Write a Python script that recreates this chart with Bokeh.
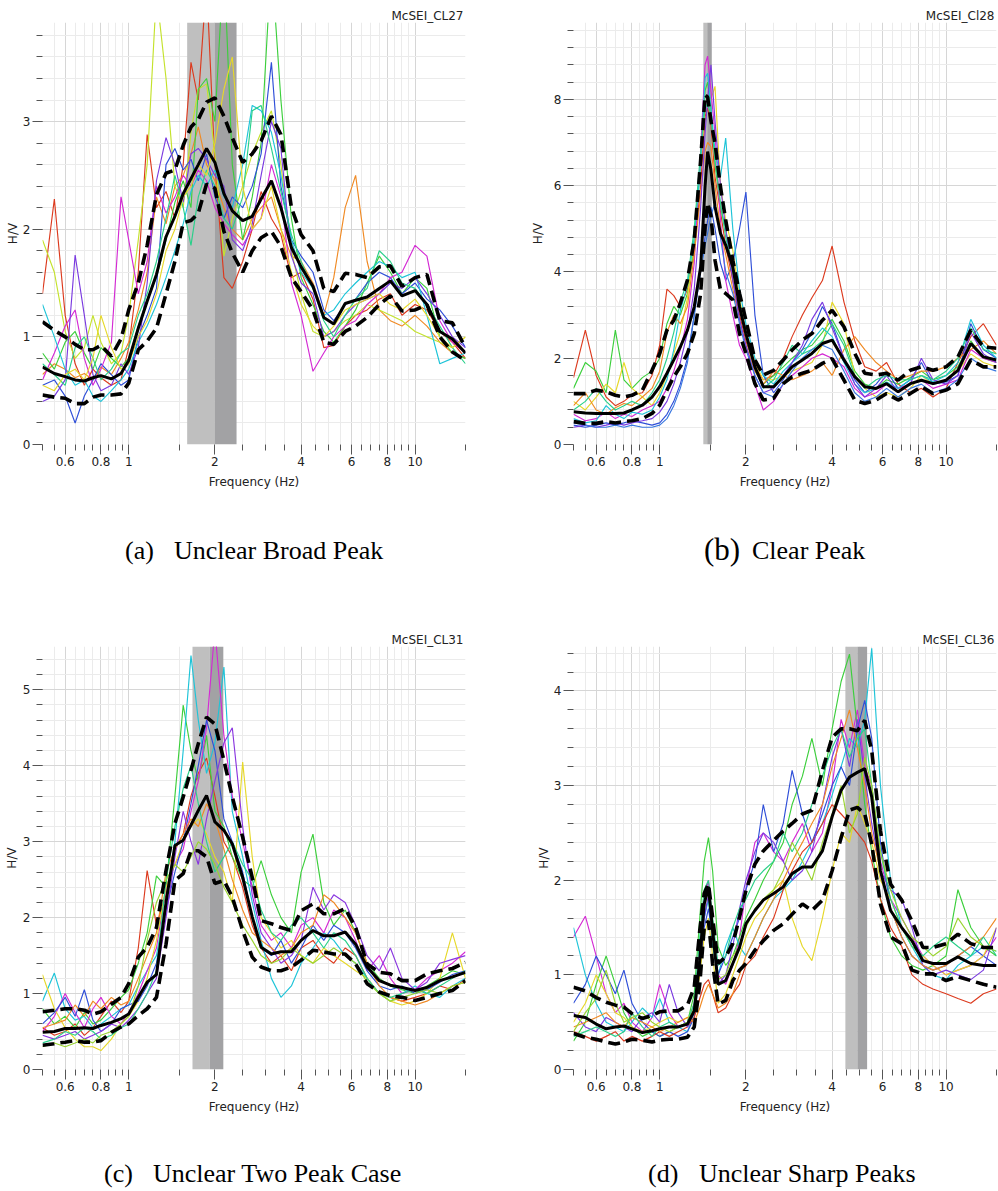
import math
from bokeh.plotting import figure
from bokeh.models import FixedTicker, CustomJSTickFormatter, Range1d, Div
from bokeh.layouts import column, row
from bokeh.embed import file_html
from bokeh.resources import INLINE

# ---------------- shared axis ticks ----------------
X_MAJOR = [0.6, 0.8, 1, 2, 4, 6, 8, 10]
X_MINOR = [0.5, 0.55, 0.65, 0.7, 0.75, 0.85, 0.9, 0.95, 1.5, 2.5, 3, 3.5,
           4.5, 5, 5.5, 6.5, 7, 7.5, 8.5, 9, 9.5, 15]

# ---------------- panel (a) McSEI_CL27 ----------------
FREQ_A = [0.5, 0.55, 0.6, 0.65, 0.7, 0.75, 0.8, 0.87, 0.94, 1.0,
          1.08, 1.16, 1.25, 1.35, 1.45, 1.55, 1.65, 1.75, 1.87, 2.0,
          2.15, 2.3, 2.5, 2.7, 2.9, 3.15, 3.4, 3.7, 4.0,
          4.4, 4.8, 5.2, 5.7, 6.2, 6.8, 7.5, 8.2, 9.0, 10.0, 11.0, 12.2, 13.5, 15.0]
MEAN_A = [0.72, 0.66, 0.63, 0.60, 0.59, 0.62, 0.64, 0.61, 0.66, 0.78,
          1.08, 1.33, 1.58, 1.93, 2.12, 2.33, 2.47, 2.60, 2.75, 2.62,
          2.33, 2.17, 2.08, 2.12, 2.28, 2.45, 2.20, 1.83, 1.65,
          1.47, 1.18, 1.12, 1.31, 1.34, 1.37, 1.45, 1.52, 1.38, 1.43, 1.30, 1.05, 0.98, 0.85]
UPPER_A = [1.14, 1.06, 1.00, 0.93, 0.88, 0.88, 0.92, 0.82, 0.98, 1.25,
           1.50, 1.85, 2.32, 2.52, 2.55, 2.78, 2.95, 3.02, 3.18, 3.22,
           3.05, 2.85, 2.62, 2.70, 2.82, 3.05, 2.88, 2.20, 1.95,
           1.80, 1.45, 1.42, 1.59, 1.58, 1.55, 1.65, 1.66, 1.47, 1.55, 1.58, 1.15, 1.13, 0.90]
LOWER_A = [0.46, 0.44, 0.43, 0.38, 0.38, 0.44, 0.46, 0.46, 0.47, 0.57,
           0.88, 0.96, 1.08, 1.40, 1.70, 2.06, 2.08, 2.15, 2.42, 2.38,
           1.98, 1.78, 1.60, 1.80, 1.92, 1.98, 1.84, 1.55, 1.42,
           1.25, 0.95, 0.93, 1.05, 1.10, 1.18, 1.30, 1.38, 1.24, 1.25, 1.30, 1.00, 0.86, 0.78]
WINDOWS_A = [
    [1.40, 2.28, 1.20, 0.75, 0.55, 0.70, 0.62, 0.55, 0.60, 0.90,
     1.60, 2.88, 2.20, 2.35, 2.10, 2.60, 3.55, 3.20, 4.30, 2.60,
     1.55, 1.45, 1.70, 2.00, 2.35, 2.10, 1.95, 1.55, 1.60,
     1.35, 0.90, 0.92, 1.10, 1.20, 1.25, 1.35, 1.40, 1.20, 1.30, 1.25, 1.05, 0.95, 0.80],
    [0.65, 0.75, 0.70, 0.62, 0.66, 0.60, 0.72, 0.65, 0.80, 0.95,
     1.25, 1.60, 2.30, 2.05, 2.40, 2.50, 2.70, 2.95, 2.60, 2.45,
     2.20, 2.00, 1.90, 2.10, 2.20, 2.30, 2.00, 1.75, 1.70,
     1.50, 1.20, 1.55, 2.20, 2.50, 1.70, 1.25, 1.15, 1.10, 1.20, 1.10, 0.95, 0.85, 0.80],
    [1.90, 1.60, 1.05, 0.80, 0.90, 1.20, 0.95, 0.75, 0.85, 1.20,
     1.90, 2.60, 4.20, 3.40, 2.40, 2.20, 2.90, 3.30, 3.35, 2.70,
     1.75, 2.10, 2.40, 2.70, 2.90, 3.10, 2.60, 1.80, 1.40,
     1.05, 1.00, 1.05, 1.15, 1.20, 1.30, 1.25, 1.20, 1.15, 1.05, 1.00, 0.95, 0.90, 1.00],
    [0.85, 0.70, 0.95, 1.05, 0.85, 0.70, 0.90, 0.80, 0.72, 0.80,
     1.10, 1.35, 1.55, 1.90, 2.25, 2.45, 2.20, 3.30, 3.40, 3.00,
     4.50, 2.60, 1.90, 2.30, 2.80, 4.50, 3.20, 2.10, 1.55,
     1.30, 1.05, 0.95, 1.10, 1.25, 1.50, 1.75, 1.60, 1.40, 1.55, 1.45, 1.00, 0.85, 0.80],
    [0.55, 0.60, 0.45, 0.20, 0.45, 0.60, 0.75, 0.65, 0.55, 0.60,
     1.00, 1.20, 1.45, 2.60, 2.75, 2.55, 2.65, 2.45, 2.70, 2.30,
     2.10, 2.30, 2.20, 2.40, 2.70, 3.55, 2.40, 1.90, 1.75,
     1.60, 1.25, 1.15, 1.30, 1.35, 1.50, 1.60, 1.55, 1.40, 1.50, 1.35, 1.25, 1.10, 0.90],
    [0.60, 0.85, 1.10, 1.25, 0.80, 0.55, 0.70, 0.95, 2.30, 1.90,
     1.40, 1.70, 2.40, 2.15, 2.30, 2.50, 2.40, 2.55, 2.45, 2.20,
     2.05, 1.95, 1.85, 2.00, 2.10, 2.60, 2.30, 1.50, 1.20,
     0.68, 0.85, 1.00, 1.10, 1.15, 1.30, 1.40, 1.55, 1.60, 1.85, 1.75, 1.15, 0.95, 0.85],
    [1.30, 1.00, 0.70, 0.55, 0.60, 0.45, 0.40, 0.50, 0.60, 0.70,
     0.95, 1.10, 1.30, 1.55, 1.80, 2.05, 2.35, 2.50, 2.40, 2.55,
     2.30, 2.20, 2.60, 3.15, 3.10, 2.90, 2.50, 1.90, 1.60,
     1.45, 1.20, 1.25, 1.40, 1.50, 1.60, 1.70, 1.65, 1.55, 1.60, 1.20, 0.75, 0.80, 0.85],
    [0.40, 0.45, 0.60, 1.76, 1.20, 0.65, 0.50, 0.55, 0.75, 0.65,
     0.90, 1.50, 2.45, 2.85, 2.60, 2.25, 2.70, 2.75, 2.65, 2.50,
     2.40, 1.90, 1.80, 2.05, 2.50, 3.00, 2.75, 1.75, 1.50,
     1.40, 1.00, 1.05, 1.20, 1.30, 1.35, 1.40, 1.50, 1.45, 1.55, 1.40, 1.20, 1.00, 0.90],
    [0.75, 0.65, 0.55, 0.90, 1.00, 0.80, 0.60, 0.70, 0.85, 0.90,
     1.20, 1.40, 1.70, 2.10, 2.50, 2.20, 1.85, 2.30, 2.55, 2.40,
     2.10, 2.00, 2.30, 3.10, 3.15, 2.75, 2.35, 1.95, 1.70,
     1.45, 1.15, 1.00, 1.20, 1.35, 1.45, 1.80, 1.70, 1.50, 1.45, 1.30, 1.10, 0.90, 0.75],
    [0.55, 0.50, 0.65, 0.70, 0.60, 0.80, 1.20, 0.90, 0.70, 0.75,
     1.00, 1.15, 1.40, 1.80, 2.00, 2.30, 2.40, 2.60, 2.50, 2.80,
     3.30, 3.60, 2.40, 2.00, 2.10, 2.40, 2.00, 1.60, 1.30,
     1.10, 1.00, 1.10, 1.25, 1.30, 1.35, 1.40, 1.30, 1.25, 1.35, 1.20, 1.00, 0.90, 1.00],
]
COLORS_A = ["#dc3a1e", "#f08a24", "#c4e22c", "#3ccf3c", "#2f4fd8",
            "#d42ad4", "#1ec4d8", "#7a3ae0", "#2ad08a", "#e6d82a"]
BAND_A = [1.6, 2.0, 2.38]

# ---------------- panel (b) McSEI_Cl28 ----------------
FREQ_B = [0.5, 0.55, 0.6, 0.65, 0.7, 0.75, 0.8, 0.87, 0.94, 1.0,
          1.06, 1.12, 1.18, 1.25, 1.32, 1.39, 1.44, 1.47, 1.51, 1.56, 1.63,
          1.7, 1.8, 1.9, 2.0, 2.15, 2.3, 2.5, 2.7, 2.9, 3.15,
          3.4, 3.7, 4.0, 4.4, 4.8, 5.2, 5.7, 6.2, 6.8, 7.5,
          8.2, 9.0, 10.0, 11.0, 12.2, 13.5, 15.0]
MEAN_B = [0.76, 0.73, 0.72, 0.72, 0.72, 0.73, 0.80, 0.91, 1.10, 1.34,
          1.65, 1.96, 2.26, 2.65, 3.19, 4.12, 5.97, 6.79, 6.36, 5.51, 4.89,
          4.62, 4.12, 3.19, 2.57, 1.80, 1.34, 1.34, 1.57, 1.80, 1.96,
          2.11, 2.34, 2.42, 1.96, 1.57, 1.34, 1.30, 1.41, 1.22, 1.41,
          1.49, 1.41, 1.49, 1.72, 2.34, 2.03, 1.96]
UPPER_B = [1.18, 1.18, 1.26, 1.22, 1.14, 1.10, 1.14, 1.26, 1.72, 2.11,
           2.65, 2.88, 3.27, 3.81, 4.74, 6.59, 8.10, 8.05, 7.50, 6.98, 5.97,
           5.20, 4.27, 3.50, 2.88, 1.96, 1.61, 1.72, 1.96, 2.19, 2.42,
           2.57, 2.88, 3.11, 2.73, 2.11, 1.65, 1.61, 1.65, 1.49, 1.72,
           1.80, 1.72, 1.80, 2.03, 2.65, 2.26, 2.23]
LOWER_B = [0.53, 0.49, 0.49, 0.53, 0.50, 0.53, 0.55, 0.60, 0.72, 0.91,
           1.26, 1.57, 1.80, 2.11, 2.57, 3.50, 5.05, 5.60, 5.30, 4.27, 3.58,
           3.50, 3.35, 2.57, 2.11, 1.41, 1.03, 1.07, 1.41, 1.57, 1.65,
           1.72, 1.88, 1.99, 1.49, 1.03, 0.95, 1.03, 1.18, 1.03, 1.18,
           1.34, 1.18, 1.26, 1.41, 1.96, 1.80, 1.80]
WINDOWS_B = [
    [1.55, 2.65, 1.60, 1.10, 0.90, 1.00, 1.15, 1.20, 1.60, 2.30,
     3.60, 3.45, 3.20, 3.60, 4.50, 6.00, 7.60, 7.80, 7.40, 6.20, 5.40,
     4.60, 3.80, 3.00, 2.40, 1.80, 1.50, 1.60, 2.00, 2.50, 3.00,
     3.40, 3.80, 4.60, 3.30, 2.40, 1.80, 1.70, 1.90, 1.40, 1.20,
     1.30, 1.10, 1.30, 1.90, 2.50, 2.80, 2.30],
    [1.30, 1.90, 1.70, 1.20, 2.65, 1.50, 1.30, 1.55, 1.70, 2.00,
     2.80, 3.20, 3.00, 3.50, 4.60, 6.50, 8.20, 8.40, 7.80, 6.50, 5.50,
     5.00, 4.00, 3.20, 2.50, 1.70, 1.40, 1.60, 1.80, 2.00, 2.20,
     2.30, 2.60, 2.90, 2.40, 1.70, 1.40, 1.30, 1.50, 1.40, 1.55,
     1.70, 1.50, 1.60, 1.80, 2.40, 2.00, 1.90],
    [1.00, 0.80, 1.10, 1.40, 1.20, 1.90, 1.30, 1.10, 0.90, 1.20,
     1.60, 2.10, 2.60, 3.40, 4.80, 6.60, 7.80, 7.90, 8.00, 8.30, 6.00,
     5.20, 4.50, 3.40, 2.60, 1.90, 1.50, 1.50, 1.60, 1.70, 1.80,
     1.90, 2.30, 3.30, 2.80, 1.60, 1.30, 1.10, 1.20, 1.10, 1.30,
     1.60, 1.40, 1.50, 1.70, 2.10, 1.90, 1.80],
    [0.45, 0.40, 0.45, 0.50, 0.45, 0.50, 0.55, 0.50, 0.45, 0.50,
     0.70, 1.00, 1.40, 2.00, 3.00, 4.20, 4.80, 5.20, 5.50, 5.00, 4.20,
     3.80, 4.20, 5.00, 5.85, 3.00, 1.60, 1.20, 1.50, 1.90, 2.20,
     2.60, 3.20, 2.80, 2.00, 1.50, 1.20, 1.40, 1.70, 1.30, 1.50,
     1.90, 1.40, 1.45, 1.60, 2.80, 2.20, 2.00],
    [0.70, 0.55, 0.60, 0.75, 0.60, 0.70, 0.65, 0.80, 0.90, 1.00,
     1.30, 1.70, 2.20, 2.90, 4.20, 6.80, 8.80, 9.00, 8.20, 7.20, 5.20,
     3.80, 3.00, 2.30, 2.00, 1.40, 0.80, 1.00, 1.40, 1.60, 1.80,
     2.00, 2.10, 2.00, 1.80, 1.30, 1.10, 1.20, 1.40, 1.30, 1.40,
     1.50, 1.30, 1.40, 1.50, 2.20, 2.00, 1.90],
    [0.60, 0.50, 0.55, 0.90, 0.70, 0.60, 0.75, 0.70, 0.80, 1.10,
     1.50, 2.20, 3.10, 3.70, 4.80, 6.50, 8.50, 8.60, 7.80, 6.80, 6.20,
     7.10, 5.00, 3.60, 2.80, 2.00, 1.60, 1.40, 1.70, 1.90, 2.10,
     2.40, 2.70, 2.50, 1.90, 1.40, 1.20, 1.30, 1.45, 1.30, 1.50,
     1.60, 1.45, 1.60, 1.90, 2.90, 2.30, 2.00],
    [0.90, 1.20, 0.80, 0.70, 0.85, 0.95, 0.90, 1.10, 1.30, 1.70,
     2.60, 3.00, 2.80, 3.20, 4.40, 5.80, 6.80, 7.00, 6.90, 6.00, 5.00,
     4.40, 3.60, 2.90, 2.30, 1.70, 1.40, 1.70, 1.60, 1.50, 1.60,
     1.70, 1.90, 1.60, 2.20, 2.50, 2.20, 1.90, 1.70, 1.50, 1.60,
     1.70, 1.70, 1.80, 2.00, 2.20, 2.40, 2.10],
    [0.40, 0.45, 0.40, 0.45, 0.50, 0.45, 0.50, 0.55, 0.60, 0.75,
     1.00, 1.40, 1.90, 2.60, 3.60, 5.50, 7.20, 8.00, 8.80, 7.50, 6.00,
     5.00, 3.80, 2.90, 2.30, 1.60, 1.20, 1.30, 1.60, 1.90, 2.30,
     2.90, 3.30, 2.70, 2.00, 1.40, 1.10, 1.30, 1.60, 1.20, 1.40,
     2.00, 1.50, 1.40, 1.60, 2.60, 2.10, 1.90],
    [0.80, 1.00, 1.30, 1.00, 0.80, 0.90, 1.00, 0.90, 1.20, 1.50,
     2.00, 2.60, 3.30, 3.80, 5.00, 6.80, 7.80, 7.90, 7.60, 6.60, 5.60,
     4.80, 4.00, 3.30, 2.60, 1.80, 1.30, 1.50, 1.90, 2.30, 2.10,
     2.20, 2.40, 2.80, 2.30, 1.60, 1.30, 1.50, 1.60, 1.50, 1.50,
     1.60, 1.50, 1.70, 2.00, 2.70, 2.20, 2.10],
    [0.50, 0.45, 0.40, 0.40, 0.45, 0.40, 0.45, 0.40, 0.40, 0.45,
     0.60, 0.90, 1.30, 1.90, 3.00, 4.00, 4.60, 4.90, 5.30, 5.60, 4.80,
     4.00, 3.50, 2.80, 2.20, 1.60, 1.20, 1.10, 1.40, 1.70, 2.00,
     2.20, 2.30, 2.20, 1.70, 1.20, 1.00, 1.10, 1.30, 1.10, 1.30,
     1.40, 1.20, 1.30, 1.50, 2.00, 1.80, 1.70],
]
COLORS_B = ["#dc3a1e", "#3ccf3c", "#e6d82a", "#2f4fd8", "#d42ad4",
            "#1ec4d8", "#f08a24", "#7a3ae0", "#2ad08a", "#3a78e0"]
BAND_B = [1.42, 1.465, 1.52]

# ---------------- panel (c) McSEI_CL31 ----------------
FREQ_C = [0.5, 0.55, 0.6, 0.65, 0.7, 0.75, 0.8, 0.87, 0.94, 1.0,
          1.08, 1.16, 1.25, 1.35, 1.45, 1.55, 1.65, 1.75, 1.87, 2.0,
          2.15, 2.3, 2.5, 2.7, 2.9, 3.15, 3.4, 3.7, 4.0,
          4.4, 4.8, 5.2, 5.7, 6.2, 6.8, 7.5, 8.2, 9.0, 10.0, 11.0, 12.2, 13.5, 15.0]
MEAN_C = [0.49, 0.50, 0.54, 0.54, 0.55, 0.54, 0.58, 0.62, 0.67, 0.73,
          0.95, 1.15, 1.25, 2.20, 2.95, 3.02, 3.22, 3.41, 3.61, 3.26,
          3.15, 2.97, 2.53, 2.01, 1.61, 1.52, 1.55, 1.55, 1.70,
          1.83, 1.76, 1.76, 1.81, 1.65, 1.35, 1.17, 1.11, 1.08, 1.04, 1.08, 1.17, 1.22, 1.28]
UPPER_C = [0.76, 0.78, 0.80, 0.80, 0.78, 0.73, 0.76, 0.86, 0.95, 1.13,
           1.48, 1.61, 1.87, 2.62, 3.24, 3.59, 3.94, 4.29, 4.64, 4.55,
           4.07, 3.59, 3.06, 2.53, 1.96, 1.92, 1.87, 1.83, 2.09,
           2.18, 2.05, 2.05, 2.12, 1.87, 1.39, 1.28, 1.26, 1.17, 1.17, 1.26, 1.30, 1.33, 1.41]
LOWER_C = [0.32, 0.34, 0.36, 0.38, 0.36, 0.36, 0.38, 0.49, 0.56, 0.60,
           0.71, 0.80, 0.95, 1.65, 2.49, 2.58, 2.88, 2.88, 2.80, 2.45,
           2.49, 2.27, 1.83, 1.48, 1.35, 1.30, 1.30, 1.35, 1.44,
           1.57, 1.55, 1.52, 1.52, 1.39, 1.13, 1.02, 0.97, 0.95, 0.91, 0.95, 1.00, 1.04, 1.17]
WINDOWS_C = [
    [0.55, 0.45, 0.50, 0.60, 0.45, 0.55, 0.70, 0.90, 0.75, 0.90,
     1.60, 2.62, 1.90, 2.30, 2.90, 3.10, 3.60, 3.90, 4.10, 3.60,
     3.00, 2.80, 2.40, 1.90, 1.60, 1.40, 1.50, 1.30, 1.60,
     1.70, 1.50, 1.40, 1.60, 1.50, 1.20, 1.00, 0.95, 0.90, 0.95, 1.00, 1.10, 1.05, 1.20],
    [0.80, 0.60, 0.70, 0.55, 0.75, 0.60, 0.65, 0.80, 0.95, 1.05,
     1.40, 1.80, 2.55, 2.40, 3.60, 4.80, 4.20, 3.80, 4.40, 3.40,
     3.20, 2.80, 2.50, 2.40, 2.75, 2.30, 2.00, 1.80, 2.60,
     3.10, 2.20, 1.90, 2.10, 1.80, 1.40, 1.20, 1.10, 1.05, 1.00, 1.10, 1.20, 1.30, 1.25],
    [0.90, 1.27, 0.80, 0.65, 0.70, 0.55, 0.60, 0.70, 0.80, 0.85,
     1.10, 1.30, 1.50, 2.20, 3.00, 4.20, 5.45, 4.60, 3.90, 4.30,
     5.30, 3.40, 2.80, 2.20, 1.70, 1.20, 0.95, 1.10, 1.40,
     1.60, 1.80, 1.70, 1.50, 1.40, 1.20, 1.00, 0.90, 1.00, 1.10, 1.00, 0.95, 1.10, 1.20],
    [0.50, 0.70, 1.00, 0.75, 0.55, 0.80, 0.95, 0.70, 0.60, 0.75,
     1.00, 1.30, 1.60, 2.40, 2.70, 2.90, 3.40, 3.80, 4.50, 5.80,
     4.40, 3.60, 3.00, 2.40, 1.90, 1.70, 1.80, 1.60, 1.90,
     2.00, 1.80, 2.10, 2.00, 1.70, 1.30, 1.50, 1.20, 1.00, 1.05, 1.20, 1.30, 1.40, 1.55],
    [1.25, 0.80, 0.55, 0.40, 0.30, 0.30, 0.25, 0.40, 0.60, 0.70,
     0.90, 1.20, 1.70, 2.40, 2.70, 3.00, 3.20, 3.30, 3.10, 2.80,
     2.60, 2.20, 4.05, 2.80, 2.00, 1.80, 1.60, 1.70, 1.50,
     1.40, 1.60, 1.50, 1.40, 1.30, 1.20, 1.00, 0.90, 0.85, 0.90, 1.00, 1.20, 1.80, 1.20],
    [0.60, 0.75, 0.95, 0.70, 1.05, 0.65, 0.50, 0.60, 0.80, 0.85,
     0.90, 1.10, 1.40, 2.10, 2.60, 3.00, 3.50, 4.00, 4.60, 4.20,
     3.30, 3.00, 2.60, 2.00, 1.60, 1.50, 1.70, 1.40, 1.60,
     1.90, 1.70, 1.90, 1.80, 1.60, 1.30, 1.10, 1.05, 1.10, 1.00, 1.05, 1.15, 1.25, 1.30],
    [0.45, 0.40, 0.45, 0.50, 0.40, 0.45, 0.50, 0.60, 0.55, 0.65,
     0.80, 1.00, 1.20, 2.00, 2.80, 3.40, 3.00, 2.70, 3.30, 3.80,
     4.30, 4.50, 3.20, 2.30, 1.80, 1.60, 1.40, 1.50, 1.70,
     2.40, 2.10, 2.30, 2.20, 1.90, 1.50, 1.30, 1.60, 1.20, 1.05, 1.15, 1.40, 1.45, 1.50],
    [0.55, 0.60, 0.65, 0.85, 0.70, 0.90, 0.80, 0.95, 0.85, 0.90,
     1.20, 1.50, 1.80, 2.60, 2.90, 3.10, 3.30, 3.20, 3.50, 3.30,
     2.90, 2.50, 2.10, 1.80, 1.70, 1.60, 1.50, 1.60, 1.80,
     1.90, 2.30, 2.20, 2.00, 1.80, 1.40, 1.10, 0.95, 0.90, 0.85, 0.90, 1.00, 1.10, 1.15],
    [0.35, 0.40, 0.50, 0.45, 0.55, 0.50, 0.40, 0.45, 0.55, 0.60,
     0.80, 1.00, 1.30, 2.50, 3.20, 3.70, 4.00, 3.50, 3.00, 2.60,
     2.80, 3.00, 2.70, 2.50, 2.10, 1.80, 1.70, 1.90, 2.00,
     1.80, 1.60, 1.80, 1.70, 1.50, 1.20, 1.00, 0.95, 1.00, 1.05, 1.00, 1.10, 1.20, 1.30],
    [0.30, 0.35, 0.30, 0.35, 0.40, 0.35, 0.45, 0.50, 0.60, 0.70,
     1.10, 1.70, 2.20, 2.50, 2.70, 2.60, 2.80, 3.00, 2.90, 2.70,
     2.40, 2.20, 1.90, 1.70, 1.50, 1.40, 1.45, 1.60, 1.50,
     1.40, 1.50, 1.60, 1.50, 1.40, 1.15, 1.00, 0.90, 0.95, 1.00, 1.05, 1.00, 1.10, 1.15],
]
COLORS_C = ["#dc3a1e", "#3ccf3c", "#1ec4d8", "#d42ad4", "#e6d82a",
            "#2f4fd8", "#8a36e0", "#f08a24", "#2ad08a", "#9ad430"]
BAND_C = [1.67, 1.92, 2.14]

# ---------------- panel (d) McSEI_CL36 ----------------
FREQ_D = [0.5, 0.55, 0.6, 0.65, 0.7, 0.75, 0.8, 0.87, 0.94, 1.0,
          1.08, 1.16, 1.25, 1.32, 1.38, 1.43, 1.48, 1.53, 1.6, 1.7,
          1.8, 1.9, 2.0, 2.15, 2.3, 2.5, 2.7, 2.9, 3.15, 3.4,
          3.7, 4.0, 4.3, 4.6, 4.9, 5.2, 5.5, 5.9, 6.4, 7.0,
          7.6, 8.3, 9.0, 10.0, 11.0, 12.2, 13.5, 15.0]
MEAN_D = [0.57, 0.55, 0.48, 0.43, 0.45, 0.46, 0.43, 0.39, 0.41, 0.43,
          0.45, 0.45, 0.48, 0.62, 1.15, 1.75, 1.93, 1.47, 0.90, 0.94,
          1.12, 1.29, 1.54, 1.68, 1.79, 1.86, 1.93, 2.07, 2.14, 2.14,
          2.31, 2.67, 2.95, 3.09, 3.14, 3.18, 2.88, 2.10, 1.68, 1.50,
          1.36, 1.15, 1.12, 1.12, 1.19, 1.12, 1.10, 1.10]
UPPER_D = [0.87, 0.83, 0.76, 0.71, 0.68, 0.66, 0.59, 0.54, 0.57, 0.61,
           0.62, 0.62, 0.68, 0.87, 1.47, 1.86, 1.96, 1.61, 1.12, 1.19,
           1.33, 1.61, 1.89, 2.17, 2.31, 2.42, 2.52, 2.60, 2.70, 2.74,
           3.16, 3.51, 3.60, 3.60, 3.58, 3.69, 3.37, 2.52, 1.96, 1.79,
           1.57, 1.29, 1.29, 1.33, 1.43, 1.33, 1.29, 1.29]
LOWER_D = [0.38, 0.34, 0.32, 0.29, 0.27, 0.29, 0.32, 0.31, 0.29, 0.31,
           0.32, 0.32, 0.34, 0.45, 0.90, 1.50, 1.57, 1.12, 0.69, 0.73,
           0.94, 1.05, 1.12, 1.26, 1.36, 1.47, 1.54, 1.64, 1.75, 1.68,
           1.79, 2.10, 2.45, 2.74, 2.77, 2.70, 2.38, 1.75, 1.40, 1.33,
           1.05, 1.01, 1.01, 0.94, 0.98, 0.94, 0.90, 0.87]
WINDOWS_D = [
    [1.40, 1.62, 1.20, 0.80, 0.60, 0.70, 0.50, 0.40, 0.55, 0.90,
     0.60, 0.45, 0.50, 0.70, 1.30, 1.80, 2.00, 1.50, 1.00, 0.90,
     1.10, 1.40, 1.90, 2.40, 2.50, 2.30, 2.20, 2.40, 2.60, 2.30,
     2.50, 3.00, 3.70, 3.40, 3.80, 3.20, 3.00, 2.20, 1.80, 1.60,
     1.40, 1.20, 1.10, 1.00, 1.05, 1.10, 1.20, 1.40],
    [0.30, 0.50, 0.90, 1.20, 0.90, 0.60, 0.45, 0.35, 0.40, 0.35,
     0.40, 0.45, 0.50, 0.80, 1.60, 2.20, 2.45, 2.10, 1.30, 1.10,
     1.20, 1.40, 1.60, 1.80, 2.00, 2.20, 2.40, 2.80, 3.10, 3.50,
     3.00, 3.60, 4.10, 4.39, 3.60, 2.80, 2.30, 1.80, 1.40, 1.20,
     1.10, 1.05, 1.10, 1.20, 1.90, 1.50, 1.30, 1.20],
    [1.50, 1.00, 0.70, 0.50, 0.45, 0.40, 0.50, 0.65, 0.55, 0.75,
     0.50, 0.45, 0.40, 0.60, 1.20, 1.60, 1.80, 1.30, 1.00, 1.30,
     1.50, 1.30, 1.20, 1.40, 1.60, 1.80, 1.90, 2.00, 2.20, 2.40,
     2.60, 2.90, 3.20, 3.50, 3.40, 3.70, 4.45, 3.00, 2.00, 1.50,
     1.30, 1.10, 1.00, 0.95, 1.10, 1.20, 1.30, 1.25],
    [0.70, 0.90, 1.20, 1.00, 0.80, 1.05, 0.70, 0.50, 0.40, 0.35,
     0.40, 0.35, 0.40, 0.55, 1.00, 1.50, 1.70, 1.40, 1.00, 1.20,
     1.40, 1.60, 1.90, 2.20, 2.80, 2.30, 2.60, 3.16, 2.70, 2.40,
     2.70, 3.00, 3.20, 3.00, 3.60, 3.90, 3.50, 2.40, 1.70, 1.40,
     1.20, 1.10, 1.05, 1.10, 1.20, 1.30, 1.20, 1.10],
    [0.50, 0.70, 1.00, 0.80, 0.60, 0.55, 0.45, 0.40, 0.45, 0.50,
     0.55, 0.50, 0.55, 0.60, 1.00, 1.40, 1.60, 1.20, 0.70, 0.80,
     1.00, 1.20, 1.40, 1.60, 1.70, 1.90, 2.00, 1.60, 1.30, 1.15,
     1.60, 2.10, 2.50, 2.40, 2.80, 2.60, 2.40, 2.00, 1.80, 1.50,
     1.30, 1.20, 1.10, 1.00, 1.05, 1.10, 1.20, 1.50],
    [0.40, 0.35, 0.30, 0.35, 0.40, 0.30, 0.35, 0.30, 0.35, 0.40,
     0.35, 0.40, 0.45, 0.55, 0.75, 0.90, 0.95, 0.80, 0.60, 0.65,
     0.80, 0.90, 1.10, 1.20, 1.40, 1.60, 1.90, 2.10, 2.30, 2.40,
     2.60, 2.80, 2.70, 2.60, 2.50, 2.40, 2.20, 1.80, 1.50, 1.30,
     1.00, 0.90, 0.85, 0.80, 0.75, 0.70, 0.80, 0.85],
    [0.60, 0.45, 0.40, 0.55, 0.50, 0.45, 0.40, 0.55, 0.60, 0.50,
     0.90, 0.60, 0.45, 0.60, 1.10, 1.60, 1.85, 1.50, 0.90, 1.00,
     1.30, 1.70, 2.00, 2.30, 2.50, 2.40, 2.20, 2.00, 2.10, 2.30,
     2.80, 3.30, 3.60, 3.20, 3.70, 3.10, 2.60, 2.10, 1.90, 1.80,
     1.50, 1.10, 1.00, 1.05, 1.00, 0.95, 1.05, 1.50],
    [0.45, 0.50, 0.55, 0.60, 0.50, 0.45, 0.55, 0.50, 0.45, 0.40,
     0.45, 0.50, 0.55, 0.50, 0.65, 0.80, 0.90, 0.80, 0.65, 0.70,
     0.80, 1.00, 1.20, 1.40, 1.60, 1.80, 2.00, 2.20, 2.40, 2.60,
     2.80, 3.20, 3.50, 3.80, 3.40, 3.00, 2.50, 2.10, 1.70, 1.40,
     1.20, 1.10, 1.05, 1.10, 1.20, 1.30, 1.40, 1.60],
    [0.35, 0.40, 0.45, 0.40, 0.35, 0.40, 0.60, 0.45, 0.35, 0.45,
     0.50, 0.45, 0.50, 0.70, 1.40, 1.90, 2.00, 1.60, 1.10, 1.20,
     1.50, 1.70, 1.80, 2.00, 2.10, 2.20, 2.50, 2.30, 2.50, 2.80,
     3.10, 3.40, 3.60, 3.30, 3.50, 3.60, 3.00, 2.30, 1.80, 1.50,
     1.30, 1.20, 1.30, 1.40, 1.30, 1.20, 1.40, 1.20],
    [0.40, 0.60, 0.75, 1.05, 0.70, 0.50, 0.55, 0.60, 0.50, 0.45,
     0.40, 0.45, 0.50, 0.65, 1.20, 1.70, 1.90, 1.40, 0.95, 1.00,
     1.20, 1.30, 1.50, 1.70, 1.80, 1.90, 2.10, 2.40, 2.20, 2.00,
     2.40, 2.70, 3.00, 2.50, 2.70, 3.30, 3.00, 2.30, 1.90, 1.60,
     1.40, 1.30, 1.20, 1.30, 1.60, 1.40, 1.30, 1.25],
]
COLORS_D = ["#d42ad4", "#3ccf3c", "#1ec4d8", "#2f4fd8", "#e6d82a",
            "#dc3a1e", "#7a3ae0", "#f08a24", "#2ad08a", "#9ad430"]
BAND_D = [4.45, 4.9, 5.3]

CAPTION_TAGS = ["(a)", "(b)", "(c)", "(d)"]
CAPTION_TEXTS = ["Unclear Broad Peak", "Clear Peak", "Unclear Two Peak Case", "Unclear Sharp Peaks"]
STATIONS = ["McSEI_CL27", "McSEI_Cl28", "McSEI_CL31", "McSEI_CL36"]

BAND_LIGHT = "#bfbfbf"
BAND_DARK = "#a2a2a4"
AXIS_FONT = "DejaVu Sans"
CAP_FONT = "'Liberation Serif', 'Times New Roman', serif"


def minor_list(step, top):
    out = []
    k = 1
    while k * step < top:
        out.append(round(k * step, 3))
        k += 1
    return out


def make_panel(freq, windows, colors, mean, upper, lower, band, ymax,
               yticks, ystep, title, hv_standoff, width, height, bl, br, bt, bb):
    p = figure(width=width, height=height, x_axis_type="log",
               x_range=Range1d(0.5, 15.0), y_range=Range1d(0, ymax),
               output_backend="svg", toolbar_location=None, title=title,
               min_border_left=bl, min_border_right=br,
               min_border_top=bt, min_border_bottom=bb)
    p.outline_line_color = None
    p.background_fill_color = "white"
    p.border_fill_color = "white"

    # station title (top right)
    p.title.align = "right"
    p.title.offset = 2
    p.title.standoff = 0
    p.title.text_font = AXIS_FONT
    p.title.text_font_size = "12px"
    p.title.text_font_style = "normal"
    p.title.text_color = "#222222"

    # f0 +/- std band
    p.quad(left=[band[0], band[1]], right=[band[1], band[2]],
           bottom=[0, 0], top=[ymax, ymax],
           fill_color=[BAND_LIGHT, BAND_DARK], line_color=None)

    n = len(freq)
    for w, c in zip(windows, colors):
        m = min(n, len(w))
        p.line(freq[:m], w[:m], line_color=c, line_width=1.15)
    for s in (upper, lower):
        m = min(n, len(s))
        p.line(freq[:m], s[:m], line_color="black", line_width=3.6, line_dash="12 6")
    m = min(n, len(mean))
    p.line(freq[:m], mean[:m], line_color="black", line_width=3)

    # axes
    p.xaxis.ticker = FixedTicker(ticks=X_MAJOR, minor_ticks=X_MINOR)
    p.xaxis.formatter = CustomJSTickFormatter(code="return tick.toString();")
    p.yaxis.ticker = FixedTicker(ticks=yticks, minor_ticks=minor_list(ystep, ymax))
    for ax in (p.xaxis[0], p.yaxis[0]):
        ax.axis_line_color = None
        ax.major_tick_out = 10
        ax.major_tick_in = 0
        ax.minor_tick_out = 6
        ax.minor_tick_in = 0
        ax.major_tick_line_color = "#555555"
        ax.minor_tick_line_color = "#555555"
        ax.major_label_text_font = AXIS_FONT
        ax.major_label_text_font_size = "12px"
        ax.major_label_text_color = "#222222"
        ax.major_label_standoff = 2
        ax.axis_label_text_font = AXIS_FONT
        ax.axis_label_text_font_size = "12px"
        ax.axis_label_text_font_style = "normal"
        ax.axis_label_text_color = "#222222"
    p.xaxis.axis_label = "Frequency (Hz)"
    p.xaxis.axis_label_standoff = 6
    p.yaxis.axis_label = "H/V"
    p.yaxis.axis_label_standoff = hv_standoff

    # grids
    for g in (p.xgrid[0], p.ygrid[0]):
        g.grid_line_color = "#d6d6d6"
        g.minor_grid_line_color = "#ebebeb"
        g.grid_line_width = 1
        g.minor_grid_line_width = 1
    return p


def caption_div(width, height, items):
    spans = ""
    for txt, left, base, size in items:
        top = base - 0.8375 * size
        spans += ('<span style="position:absolute;left:%dpx;top:%.1fpx;'
                  'font-family:%s;font-size:%dpx;line-height:1;'
                  'white-space:nowrap;color:#000000;">%s</span>'
                  % (left, top, CAP_FONT, size, txt))
    html = ('<div style="position:relative;width:%dpx;height:%dpx;overflow:hidden;">%s</div>'
            % (width, height, spans))
    return Div(text=html, width=width, height=height, margin=0)


pa = make_panel(FREQ_A, WINDOWS_A, COLORS_A, MEAN_A, UPPER_A, LOWER_A, BAND_A,
                3.92, [0, 1, 2, 3], 0.2, STATIONS[0], 0,
                498, 500, 42, 33, 22, 56)
pb = make_panel(FREQ_B, WINDOWS_B, COLORS_B, MEAN_B, UPPER_B, LOWER_B, BAND_B,
                9.78, [0, 2, 4, 6, 8], 0.4, STATIONS[1], 6,
                499, 500, 75, 1, 22, 56)
pc = make_panel(FREQ_C, WINDOWS_C, COLORS_C, MEAN_C, UPPER_C, LOWER_C, BAND_C,
                5.57, [0, 1, 2, 3, 4, 5], 0.2, STATIONS[2], 1,
                498, 497, 42, 33, 26, 48)
pd_ = make_panel(FREQ_D, WINDOWS_D, COLORS_D, MEAN_D, UPPER_D, LOWER_D, BAND_D,
                 4.47, [0, 1, 2, 3, 4], 0.2, STATIONS[3], 0,
                 499, 497, 75, 1, 26, 48)

cap_a = caption_div(498, 120, [(CAPTION_TAGS[0], 125, 60, 26), (CAPTION_TEXTS[0], 174, 60, 26)])
cap_b = caption_div(499, 120, [(CAPTION_TAGS[1], 206, 60, 31), (CAPTION_TEXTS[1], 254, 60, 26)])
cap_c = caption_div(498, 73, [(CAPTION_TAGS[2], 104, 66, 26), (CAPTION_TEXTS[2], 153, 66, 26)])
cap_d = caption_div(499, 73, [(CAPTION_TAGS[3], 150, 66, 26), (CAPTION_TEXTS[3], 201, 66, 26)])

layout = column(row(pa, pb), row(cap_a, cap_b), row(pc, pd_), row(cap_c, cap_d))
open("out.html", "w").write(file_html(layout, INLINE))
